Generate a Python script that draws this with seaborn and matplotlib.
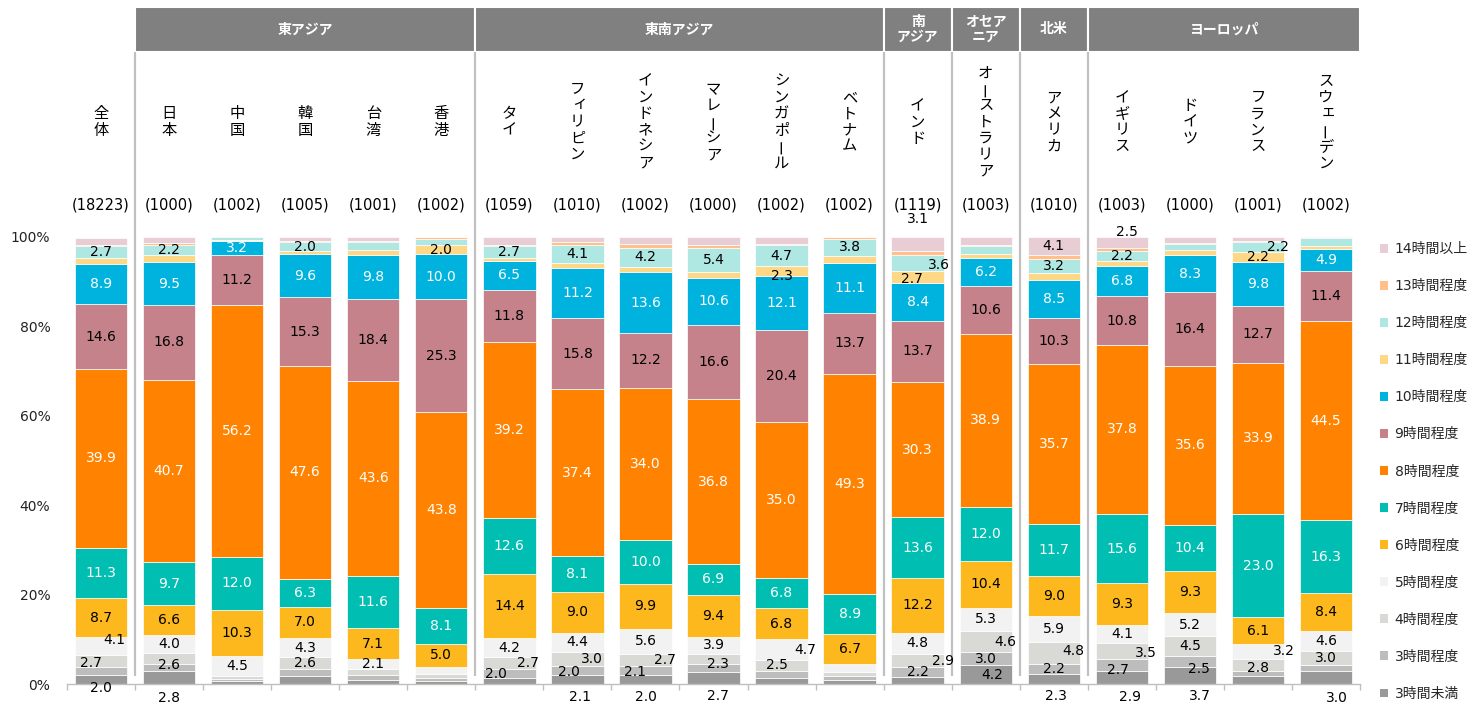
import unicodedata
import numpy as np
import pandas as pd
import matplotlib
matplotlib.use("Agg")
import matplotlib.pyplot as plt
import matplotlib.transforms as mtransforms
from matplotlib.patches import Patch, Rectangle
import seaborn as sns

# ---------------- data ----------------
countries = ["全体", "日本", "中国", "韓国", "台湾", "香港", "タイ", "フィリピン", "インドネシア",
             "マレーシア", "シンガポール", "ベトナム", "インド", "オーストラリア", "アメリカ",
             "イギリス", "ドイツ", "フランス", "スウェーデン"]
sample_sizes = [18223, 1000, 1002, 1005, 1001, 1002, 1059, 1010, 1002, 1000, 1002, 1002,
                1119, 1003, 1010, 1003, 1000, 1001, 1002]
categories = ["3時間未満", "3時間程度", "4時間程度", "5時間程度", "6時間程度", "7時間程度",
              "8時間程度", "9時間程度", "10時間程度", "11時間程度", "12時間程度", "13時間程度",
              "14時間以上"]

h_lt3 = [2.0, 2.8, 0.6, 1.7, 1.0, 0.6, 1.3, 2.1, 2.0, 2.7, 1.3, 0.9, 1.6, 4.2, 2.3, 2.9, 3.7, 1.8, 3.0]
h_3 = [1.7, 1.6, 0.5, 1.7, 1.1, 0.7, 2.0, 2.0, 2.1, 1.7, 1.6, 1.0, 2.2, 3.0, 2.2, 2.7, 2.5, 1.1, 1.3]
h_4 = [2.7, 2.6, 0.6, 2.6, 1.3, 1.0, 2.7, 3.0, 2.7, 2.3, 2.5, 0.7, 2.9, 4.6, 4.8, 3.5, 4.5, 2.8, 3.0]
h_5 = [4.1, 4.0, 4.5, 4.3, 2.1, 1.6, 4.2, 4.4, 5.6, 3.9, 4.7, 1.9, 4.8, 5.3, 5.9, 4.1, 5.2, 3.2, 4.6]
h_6 = [8.7, 6.6, 10.3, 7.0, 7.1, 5.0, 14.4, 9.0, 9.9, 9.4, 6.8, 6.7, 12.2, 10.4, 9.0, 9.3, 9.3, 6.1, 8.4]
h_7 = [11.3, 9.7, 12.0, 6.3, 11.6, 8.1, 12.6, 8.1, 10.0, 6.9, 6.8, 8.9, 13.6, 12.0, 11.7, 15.6, 10.4, 23.0, 16.3]
h_8 = [39.9, 40.7, 56.2, 47.6, 43.6, 43.8, 39.2, 37.4, 34.0, 36.8, 35.0, 49.3, 30.3, 38.9, 35.7, 37.8, 35.6, 33.9, 44.5]
h_9 = [14.6, 16.8, 11.2, 15.3, 18.4, 25.3, 11.8, 15.8, 12.2, 16.6, 20.4, 13.7, 13.7, 10.6, 10.3, 10.8, 16.4, 12.7, 11.4]
h_10 = [8.9, 9.5, 3.2, 9.6, 9.8, 10.0, 6.5, 11.2, 13.6, 10.6, 12.1, 11.1, 8.4, 6.2, 8.5, 6.8, 8.3, 9.8, 4.9]
h_11 = [1.3, 1.7, 0.3, 0.7, 1.1, 2.0, 0.5, 1.2, 1.3, 1.3, 2.3, 1.6, 2.7, 1.1, 1.5, 1.2, 1.1, 2.2, 0.6]
h_12 = [2.7, 2.2, 0.5, 2.0, 1.8, 1.5, 2.7, 4.1, 4.2, 5.4, 4.7, 3.8, 3.6, 1.6, 3.2, 2.2, 1.5, 2.2, 1.7]
h_13 = [0.4, 0.5, 0.2, 0.4, 0.3, 0.3, 0.4, 0.5, 0.8, 0.7, 0.3, 0.3, 0.9, 0.3, 0.8, 0.6, 0.2, 0.2, 0.1]
h_14 = [1.5, 1.3, 0.1, 0.8, 0.9, 0.1, 1.7, 1.2, 1.6, 1.8, 1.5, 0.1, 3.1, 1.8, 4.1, 2.5, 1.3, 1.0, 0.3]

series = [h_lt3, h_3, h_4, h_5, h_6, h_7, h_8, h_9, h_10, h_11, h_12, h_13, h_14]

groups = [("東アジア", 1, 5), ("東南アジア", 6, 11), ("南\nアジア", 12, 12),
          ("オセア\nニア", 13, 13), ("北米", 14, 14), ("ヨーロッパ", 15, 18)]

colors = ["#999999", "#BDBDBD", "#D9D9D6", "#F2F2F2", "#FDB81E", "#00BFB2", "#FF8300",
          "#C5828A", "#00B3DF", "#FFD887", "#AFE7E3", "#FFC08A", "#E9CDD4"]
white_text = {"7時間程度", "8時間程度", "10時間程度"}

# label nudges (dx in bar units, dy in percentage points) for crowded segments
nudges = {
    (0, 2): (-0.15, -0.4), (0, 3): (0.19, 1.3), (1, 2): (0.0, -1.5),
    (6, 1): (-0.19, 0.0), (6, 2): (0.27, 0.0), (7, 1): (-0.13, -0.4), (7, 2): (0.22, 0.0),
    (8, 1): (-0.15, -0.4), (8, 2): (0.28, 0.0), (9, 2): (0.07, -1.0), (10, 2): (-0.07, 0.0),
    (10, 3): (0.35, -0.2), (10, 9): (0.0, -1.1), (12, 2): (0.37, 0.0), (12, 9): (-0.08, -0.5),
    (12, 10): (0.32, -0.4), (12, 12): (0.0, 5.6), (13, 0): (0.1, 0.0), (13, 2): (0.29, 0.0),
    (14, 2): (0.28, 0.4), (15, 1): (-0.05, -1.1), (15, 2): (0.35, -0.4), (15, 12): (0.08, 2.4),
    (16, 1): (0.14, -1.5), (17, 2): (0.0, -0.7), (17, 3): (0.38, 0.0), (17, 10): (0.3, 0.0),
}
# first-segment labels placed under the axis: index -> (dx, y)
below_axis = {0: (0.0, -1.0), 1: (0.0, -3.1), 7: (0.04, -2.8), 8: (0.0, -2.9), 9: (0.06, -2.6),
              14: (0.03, -2.6), 15: (0.12, -2.8), 16: (0.14, -2.7), 18: (0.16, -3.2)}

# ---------------- build frame ----------------
rows = []
for cat, vals in zip(categories, series):
    for i, v in enumerate(vals):
        rows.append({"pos": i, "category": cat, "value": v})
df = pd.DataFrame(rows)

sns.set_theme(style="white")
plt.rcParams["font.family"] = ["DejaVu Sans", "Noto Sans CJK JP"]

W, H = 1474, 704
fig = plt.figure(figsize=(W / 100, H / 100), dpi=100)
ax_left, ax_right, ax_bottom, ax_top = 67, 1360, 684, 237
ax = fig.add_axes([ax_left / W, (H - ax_bottom) / H, (ax_right - ax_left) / W, (ax_bottom - ax_top) / H])

palette = dict(zip(categories, colors))
sns.histplot(data=df, x="pos", weights="value", hue="category", hue_order=categories[::-1],
             multiple="stack", discrete=True, shrink=0.77, palette=palette, alpha=1,
             edgecolor="white", linewidth=0.5, legend=False, ax=ax)

ax.set_xlim(-0.5, len(countries) - 0.5)
ax.set_ylim(0, 100)
ax.set_xlabel("")
ax.set_ylabel("")
for s in ["left", "right", "top"]:
    ax.spines[s].set_visible(False)
ax.spines["bottom"].set_color("#BFBFBF")
ax.spines["bottom"].set_linewidth(1.0)
ax.set_xticks(np.arange(-0.5, len(countries), 1.0))
ax.set_xticklabels([])
ax.tick_params(axis="x", bottom=True, length=4, color="#BFBFBF", width=1, direction="out")
ax.set_yticks([0, 20, 40, 60, 80, 100])
ax.set_yticklabels([f"{v}%" for v in [0, 20, 40, 60, 80, 100]], fontsize=10, color="#222222")
ax.tick_params(axis="y", left=False, pad=6)
ax.grid(False)

# ---------------- value labels ----------------
arr = np.array(series)
cum = np.cumsum(arr, axis=0)
for ci, cat in enumerate(categories):
    for i in range(len(countries)):
        v = arr[ci, i]
        if v < 1.95:
            continue
        x = i
        y = cum[ci, i] - v / 2
        if ci == 0 and i in below_axis:
            dx, y = below_axis[i]
            x = i + dx
        elif (i, ci) in nudges:
            dx, dy = nudges[(i, ci)]
            x += dx
            y += dy
        ax.text(x, y, f"{v:.1f}", ha="center", va="center", fontsize=10,
                color="white" if cat in white_text else "black", clip_on=False)

# ---------------- header, names, sample sizes ----------------
trans = mtransforms.blended_transform_factory(ax.transData, ax.transAxes)
ph = ax_bottom - ax_top
yf = lambda px: (ax_bottom - px) / ph

for name, a, b in groups:
    ax.add_patch(Rectangle((a - 0.5, yf(52)), b - a + 1, yf(7) - yf(52), transform=trans,
                           facecolor="#808080", edgecolor="white", linewidth=1.5, clip_on=False))
    ax.text((a + b) / 2, (yf(52) + yf(7)) / 2, name, transform=trans, ha="center", va="center",
            fontsize=10, fontweight="bold", color="white", linespacing=1.1,
            family=["Noto Sans CJK JP", "DejaVu Sans"])

for sep in [0.5, 5.5, 11.5, 12.5, 13.5, 14.5]:
    ax.plot([sep, sep], [yf(676), yf(52)], transform=trans, color="#C0C0C0", lw=1.6,
            clip_on=False, solid_capstyle="butt")


def is_long_mark(ch):
    nm = unicodedata.name(ch, "")
    return ("PROLONGED" in nm) or ("DASH" in nm) or ("HORIZONTAL BAR" in nm)


def is_small_kana(ch):
    return "SMALL" in unicodedata.name(ch, "")


STEP_PX = 16.3
for i, (c, n) in enumerate(zip(countries, sample_sizes)):
    k = len(c)
    for j, ch in enumerate(c):
        cy = 122 + (j - (k - 1) / 2) * STEP_PX
        dxp = 0.0
        rot = 0
        if is_long_mark(ch):
            rot = 90
        elif is_small_kana(ch):
            dxp, cy = 2.5, cy - 2.0
        ax.text(i + dxp / 68.0, yf(cy), ch, transform=trans, ha="center", va="center",
                fontsize=11, rotation=rot, rotation_mode="anchor", color="black",
                family=["Noto Sans CJK JP", "DejaVu Sans"])
    ax.text(i, yf(205), f"({n})", transform=trans, ha="center", va="center", fontsize=10.5,
            color="black")

# ---------------- legend ----------------
handles = [Patch(facecolor=col, edgecolor="none", label=cat)
           for cat, col in zip(categories[::-1], colors[::-1])]
fig.legend(handles=handles, loc="center left", bbox_to_anchor=(1380 / W, (H - 471.5) / H),
           frameon=False, fontsize=10, handlelength=0.6, handleheight=0.6, handletextpad=0.45,
           labelspacing=1.66, borderpad=0, borderaxespad=0)

fig.savefig("out.png", dpi=100)
